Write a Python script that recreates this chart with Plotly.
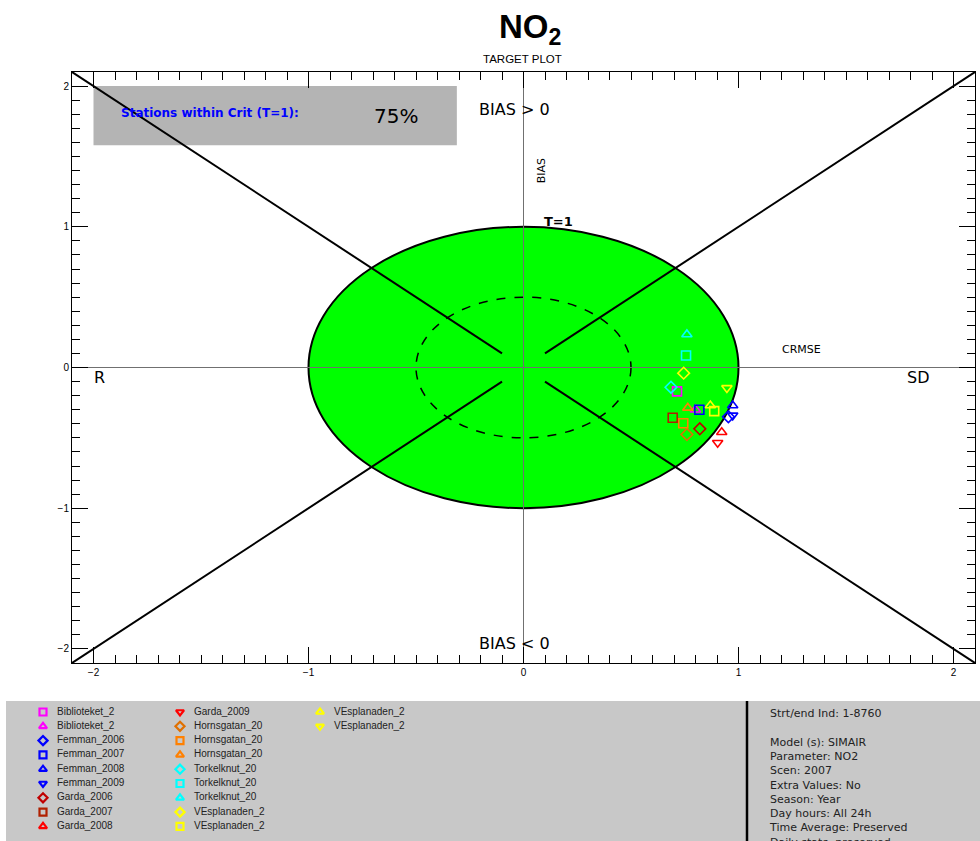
import plotly.graph_objects as go

# ---------------- data ----------------
stations = ["Biblioteket_2", "Biblioteket_2", "Femman_2006", "Femman_2007", "Femman_2008",
            "Femman_2009", "Garda_2006", "Garda_2007", "Garda_2008", "Garda_2009",
            "Hornsgatan_20", "Hornsgatan_20", "Hornsgatan_20", "Torkelknut_20", "Torkelknut_20",
            "Torkelknut_20", "VEsplanaden_2", "VEsplanaden_2", "VEsplanaden_2", "VEsplanaden_2"]
symbols = ["square-open", "triangle-up-open", "diamond-open", "square-open", "triangle-up-open",
           "triangle-down-open", "diamond-open", "square-open", "triangle-up-open", "triangle-down-open",
           "diamond-open", "square-open", "triangle-up-open", "diamond-open", "square-open",
           "triangle-up-open", "diamond-open", "square-open", "triangle-up-open", "triangle-down-open"]
colors = ["#ff00ff", "#ff00ff", "#0000ff", "#0000ff", "#0000ff",
          "#0000ff", "#c00000", "#b02000", "#ff0000", "#ff0000",
          "#e07000", "#ff8000", "#ff8000", "#00ffff", "#00ffff",
          "#00ffff", "#ffff00", "#ffff00", "#ffff00", "#ffff00"]
crmse = [0.714, 0.80, 0.953, 0.818, 0.973, 0.973, 0.82, 0.694, 0.922, 0.903,
         0.76, 0.743, 0.764, 0.686, 0.756, 0.76, 0.745, 0.887, 0.869, 0.946]
bias = [-0.17, -0.30, -0.35, -0.30, -0.27, -0.34, -0.436, -0.357, -0.46, -0.535,
        -0.476, -0.396, -0.287, -0.14, 0.085, 0.235, -0.04, -0.31, -0.27, -0.145]

info_lines = ["Strt/end Ind: 1-8760", "", "Model (s): SIMAIR", "Parameter: NO2", "Scen: 2007",
              "Extra Values: No", "Season: Year", "Day hours: All 24h", "Time Average: Preserved",
              "Daily stats: preserved"]

percent_within = "75%"
axis_lim = 2.1
crit_radius = 1.0
inner_radius = 0.5
diag_inner = 0.1

# ---------------- figure ----------------
fig = go.Figure()

for i in range(len(stations)):
    fig.add_trace(go.Scatter(
        x=[crmse[i]], y=[bias[i]], mode="markers", name=stations[i],
        marker=dict(symbol=symbols[i], color=colors[i], size=9,
                    line=dict(width=1.6, color=colors[i])),
        xaxis="x", yaxis="y", showlegend=False, hoverinfo="skip"))

# legend drawn in the bottom panel
col_x = [43, 180, 320]
row_y0, row_dy, per_col = 712, 14.3, 9
lx, ly = [], []
for i in range(len(stations)):
    lx.append(col_x[i // per_col])
    ly.append(row_y0 + (i % per_col) * row_dy)
for i in range(len(stations)):
    fig.add_trace(go.Scatter(
        x=[lx[i]], y=[ly[i]], mode="markers",
        marker=dict(symbol=symbols[i], color=colors[i], size=7,
                    line=dict(width=2.2, color=colors[i])),
        xaxis="x2", yaxis="y2", showlegend=False, hoverinfo="skip"))
fig.add_trace(go.Scatter(
    x=[v + 14 for v in lx], y=ly, mode="text", text=stations,
    textposition="middle right",
    textfont=dict(family="Liberation Sans", size=10, color="#222222"),
    xaxis="x2", yaxis="y2", showlegend=False, hoverinfo="skip"))

shapes = []
# stations box
shapes.append(dict(type="rect", xref="x", yref="y", x0=-2.0, x1=-0.31, y0=1.58, y1=2.0,
                   fillcolor="#b4b4b4", line=dict(width=0), layer="below"))
# criterion circle
shapes.append(dict(type="circle", xref="x", yref="y", x0=-crit_radius, x1=crit_radius,
                   y0=-crit_radius, y1=crit_radius, fillcolor="#00ff00",
                   line=dict(color="black", width=2), layer="below"))
shapes.append(dict(type="circle", xref="x", yref="y", x0=-inner_radius, x1=inner_radius,
                   y0=-inner_radius, y1=inner_radius,
                   line=dict(color="black", width=1.5, dash="dash"), layer="below"))
# diagonals
for sx in (-1, 1):
    for sy in (-1, 1):
        shapes.append(dict(type="line", xref="x", yref="y",
                           x0=sx * diag_inner, y0=sy * diag_inner,
                           x1=sx * axis_lim, y1=sy * axis_lim,
                           line=dict(color="black", width=2)))
# bottom panel
panel_top = 1 - 701 / 841
shapes.append(dict(type="rect", xref="paper", yref="paper", x0=6 / 980, x1=1, y0=0, y1=panel_top,
                   fillcolor="#c8c8c8", line=dict(width=0), layer="below"))
shapes.append(dict(type="line", xref="paper", yref="paper", x0=747 / 980, x1=747 / 980,
                   y0=0, y1=panel_top, line=dict(color="black", width=2.5)))

ann = []
lab_font = dict(family="DejaVu Sans", size=16, color="black")
ann.append(dict(x=-0.04, y=1.83, xref="x", yref="y", text="BIAS > 0", showarrow=False, font=lab_font))
ann.append(dict(x=-0.04, y=-1.96, xref="x", yref="y", text="BIAS < 0", showarrow=False, font=lab_font))
ann.append(dict(x=-1.97, y=-0.07, xref="x", yref="y", text="R", showarrow=False, font=lab_font))
ann.append(dict(x=1.835, y=-0.07, xref="x", yref="y", text="SD", showarrow=False, font=lab_font))
ann.append(dict(x=1.295, y=0.13, xref="x", yref="y", text="CRMSE", showarrow=False,
                font=dict(family="DejaVu Sans", size=11, color="black")))
ann.append(dict(x=0.085, y=1.40, xref="x", yref="y", text="BIAS", showarrow=False, textangle=-90,
                font=dict(family="DejaVu Sans", size=11, color="black")))
ann.append(dict(x=0.165, y=1.035, xref="x", yref="y", text="<b>T=1</b>", showarrow=False,
                font=dict(family="DejaVu Sans", size=13, color="black")))
ann.append(dict(x=-1.456, y=1.81, xref="x", yref="y", text="<b>Stations within Crit (T=1):</b>",
                showarrow=False, font=dict(family="DejaVu Sans", size=12, color="#0000ff")))
ann.append(dict(x=-0.593, y=1.79, xref="x", yref="y", text=percent_within, showarrow=False,
                font=dict(family="DejaVu Sans", size=20, color="black")))
ann.append(dict(x=530 / 980, y=1 - 6 / 841, xref="paper", yref="paper", text="<b>NO<sub>2</sub></b>",
                showarrow=False, yanchor="top",
                font=dict(family="Liberation Sans", size=33, color="black")))
ann.append(dict(x=522 / 980, y=1 - 67 / 841, xref="paper", yref="paper", text="TARGET PLOT",
                showarrow=False, yanchor="bottom",
                font=dict(family="Liberation Sans", size=11.5, color="black")))
ann.append(dict(x=767 / 980, y=1 - 705 / 841, xref="paper", yref="paper",
                text="<br>".join(info_lines), showarrow=False, xanchor="left", yanchor="top",
                align="left", font=dict(family="DejaVu Sans", size=11, color="#222222")))

axis_common = dict(range=[-axis_lim, axis_lim], autorange=False, showgrid=False,
                   zeroline=True, zerolinecolor="#707070", zerolinewidth=1,
                   showline=True, linecolor="black", linewidth=1, mirror="allticks",
                   ticks="inside", ticklen=16, tickcolor="black", tickwidth=1,
                   tickmode="linear", tick0=0, dtick=1,
                   minor=dict(dtick=0.1, ticks="inside", ticklen=8, tickcolor="black", tickwidth=1),
                   tickfont=dict(family="Liberation Sans", size=10, color="black"),
                   fixedrange=True)

fig.update_layout(
    width=980, height=841,
    margin=dict(l=0, r=0, t=0, b=0),
    paper_bgcolor="white", plot_bgcolor="white",
    showlegend=False,
    xaxis=dict(domain=[72 / 980, 975 / 980], anchor="y", **axis_common),
    yaxis=dict(domain=[1 - 663 / 841, 1 - 72 / 841], anchor="x", **axis_common),
    xaxis2=dict(domain=[0, 1], range=[0, 980], anchor="y2", visible=False, fixedrange=True),
    yaxis2=dict(domain=[0, panel_top], range=[841, 701], anchor="x2", visible=False, fixedrange=True),
    shapes=shapes, annotations=ann,
)

fig.write_html("out.html")
